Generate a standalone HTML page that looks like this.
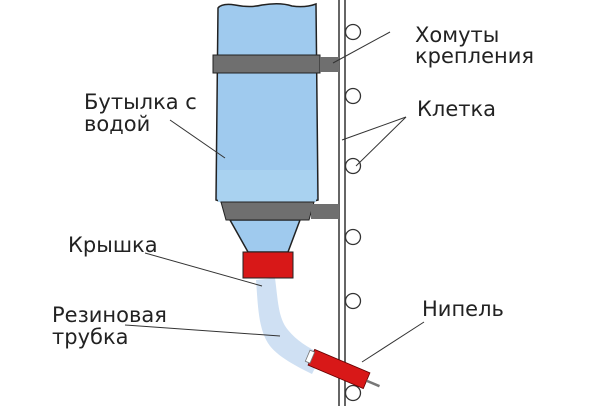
<!DOCTYPE html><html><head><style>body{margin:0;background:#fff}svg{display:block}text{font-family:"DejaVu Sans",sans-serif;font-size:21px;fill:#222}</style></head><body>
<svg width="600" height="406" viewBox="0 0 600 406">
<line x1="339" y1="0" x2="339" y2="406" stroke="#333" stroke-width="1.5"/>
<line x1="345" y1="0" x2="345" y2="406" stroke="#333" stroke-width="1.5"/>
<g fill="#fff" stroke="#333" stroke-width="1.3">
<circle cx="353" cy="32" r="7.5"/><circle cx="353" cy="96" r="7.5"/><circle cx="353" cy="166" r="7.5"/><circle cx="353" cy="237" r="7.5"/><circle cx="353" cy="301" r="7.5"/><circle cx="353" cy="393" r="7.5"/>
</g>
<path d="M275,278 C278,300 278,318 288,330 C296,340 308,348 322,354 L312,374 C296,366 280,358 270,346 C258,330 258,305 256,280 Z" fill="#cfe0f3"/>
<path d="M218,8 Q222,3 235,5 Q250,8 262,5 Q280,2 292,6 Q305,8 316,4 L318,200 L310,202 L222,202 L216,200 Z" fill="#9fcaee" stroke="#222" stroke-width="1.5"/>
<rect x="218" y="170" width="98" height="32" fill="#a9d2f0"/>
<path d="M230,220 L300,220 L288,252 L248,252 Z" fill="#9fcaee" stroke="#222" stroke-width="1.5"/>
<rect x="213" y="55" width="107" height="18" fill="#6f6f6f" stroke="#222" stroke-width="1"/>
<rect x="320" y="57" width="19" height="15" fill="#6f6f6f"/>
<path d="M221,202 L314,202 L309,220 L226,220 Z" fill="#6f6f6f" stroke="#222" stroke-width="1"/>
<rect x="311" y="204" width="28" height="15" fill="#6f6f6f"/>
<rect x="243" y="252" width="50" height="26" fill="#d81818" stroke="#222" stroke-width="1"/>
<g transform="translate(339,369) rotate(23)">
<rect x="-30" y="-8.5" width="60" height="17" fill="#d81818" stroke="#600" stroke-width="0.8"/>
<line x1="30" y1="0" x2="44" y2="0" stroke="#777" stroke-width="2.5"/>
<rect x="-34" y="-6" width="5" height="12" fill="#fff" stroke="#777" stroke-width="0.8"/>
</g>
<g stroke="#333" stroke-width="1">
<line x1="333" y1="63" x2="390" y2="32"/>
<line x1="342" y1="140" x2="406" y2="117"/>
<line x1="356" y1="166" x2="406" y2="117"/>
<line x1="170" y1="120" x2="225" y2="158"/>
<line x1="145" y1="253" x2="262" y2="286"/>
<line x1="125" y1="325" x2="280" y2="336"/>
<line x1="424" y1="322" x2="362" y2="362"/>
</g>
<text x="415" y="42">Хомуты</text><text x="415" y="63">крепления</text>
<text x="417" y="116">Клетка</text>
<text x="84" y="109">Бутылка с</text><text x="84" y="131">водой</text>
<text x="68" y="252">Крышка</text>
<text x="52" y="322">Резиновая</text><text x="52" y="344">трубка</text>
<text x="422" y="316">Нипель</text>
</svg></body></html>
